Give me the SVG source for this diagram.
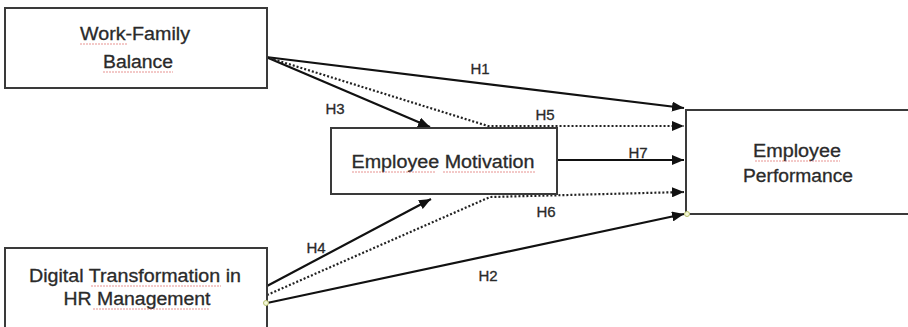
<svg xmlns="http://www.w3.org/2000/svg" width="908" height="327" viewBox="0 0 908 327">
<style>
.box{fill:#fff;stroke:#3a3a3a;stroke-width:2}
.t{font-family:"Liberation Sans",Arial,sans-serif;font-size:18px;fill:#2a2a2a;stroke:#2a2a2a;stroke-width:0.3;text-anchor:middle}
.lbl{font-family:"Liberation Sans",Arial,sans-serif;font-size:15px;fill:#2a2a2a;stroke:#2a2a2a;stroke-width:0.3;text-anchor:middle}
.solid{fill:none;stroke:#111;stroke-width:2.2}
.dot{fill:none;stroke:#222;stroke-width:2.2;stroke-dasharray:2 2}
.sq{fill:none;stroke:#d9534f;stroke-width:0.9;stroke-dasharray:2 1;opacity:0.7}
.pt{fill:#f4f8d8;stroke:#b8c070;stroke-width:1}
</style>
<defs>
<marker id="ah" viewBox="0 0 12 10" refX="12" refY="5" markerWidth="12" markerHeight="10" markerUnits="userSpaceOnUse" orient="auto">
<path d="M0,0 L12,5 L0,10 Z" fill="#111"/>
</marker>
</defs>
<rect width="908" height="327" fill="#fff"/>
<g id="connectors">
<path id="H1" class="solid" d="M266,57 L684,108" marker-end="url(#ah)"/>
<path id="H3" class="solid" d="M266,57 L430,127" marker-end="url(#ah)"/>
<path id="H5" class="dot" d="M266,57 L488,126 L684,126" marker-end="url(#ah)"/>
<path id="H7" class="solid" d="M557,160 L684,160" marker-end="url(#ah)"/>
<path id="H6" class="dot" d="M267,295 L490,197 L684,192" marker-end="url(#ah)"/>
<path id="H4" class="solid" d="M267,286 L431,199" marker-end="url(#ah)"/>
<path id="H2" class="solid" d="M267,303 L684,214" marker-end="url(#ah)"/>
<text class="lbl" x="480" y="74">H1</text>
<text class="lbl" x="335" y="114">H3</text>
<text class="lbl" x="545" y="120">H5</text>
<text class="lbl" x="638" y="158">H7</text>
<text class="lbl" x="546" y="217">H6</text>
<text class="lbl" x="316" y="253">H4</text>
<text class="lbl" x="488" y="281">H2</text>
</g>
<g id="work-family">
<rect class="box" x="5" y="8" width="262" height="80"/>
<text class="t" x="135" y="40" textLength="110" lengthAdjust="spacingAndGlyphs">Work-Family</text>
<text class="t" x="138" y="68" textLength="70" lengthAdjust="spacingAndGlyphs">Balance</text>
<path class="sq" d="M80,44 L127,44 M103,72 L173,72"/>
</g>
<g id="motivation">
<rect class="box" x="331" y="128" width="226" height="66"/>
<text class="t" x="443" y="168" textLength="183" lengthAdjust="spacingAndGlyphs">Employee Motivation</text>
<path class="sq" d="M352,172 L435,172 M443,172 L535,172"/>
</g>
<g id="performance">
<rect class="box" x="686" y="110" width="230" height="104"/>
<text class="t" x="797" y="157" textLength="88" lengthAdjust="spacingAndGlyphs">Employee</text>
<text class="t" x="798" y="182" textLength="110" lengthAdjust="spacingAndGlyphs">Performance</text>
<path class="sq" d="M755,161 L840,161"/>
</g>
<g id="digital">
<rect class="box" x="5" y="248" width="262" height="90"/>
<text class="t" x="135" y="282" textLength="212" lengthAdjust="spacingAndGlyphs">Digital Transformation in</text>
<text class="t" x="137" y="305" textLength="147" lengthAdjust="spacingAndGlyphs">HR Management</text>
<path class="sq" d="M91,286 L221,286 M93,309 L209,309"/>
</g>
<circle class="pt" cx="266" cy="303" r="2.5"/>
<circle class="pt" cx="687" cy="214" r="2.5"/>
</svg>
